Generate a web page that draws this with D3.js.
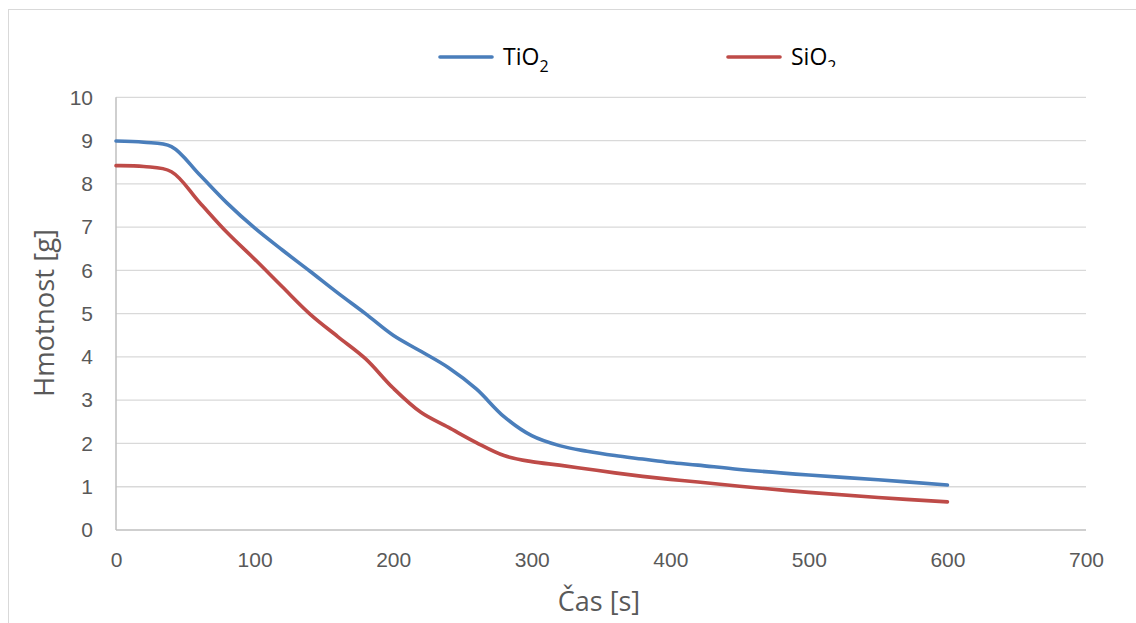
<!DOCTYPE html>
<html lang="cs">
<head>
<meta charset="UTF-8">
<script src="https://d3js.org/d3.v7.min.js"></script>
<style>
  html, body { margin: 0; padding: 0; background: #fff; overflow: hidden; }
  svg { display: block; font-family: "Open Sans", "Noto Sans", sans-serif; }
  .grid line { stroke: #d9d9d9; stroke-width: 1.3px; }
  .tick text { fill: #595959; font-size: 21px; }
  .title { fill: #595959; font-size: 27px; }
  .legend text { fill: #000; font-size: 23px; }
</style>
</head>
<body>
<svg id="chart" width="1136" height="623"></svg>
<script>
// cas [s]
const time = [0, 20, 40, 60, 80, 100, 120, 140, 160, 180, 200, 220, 240, 260, 280, 300,
              320, 340, 360, 380, 400, 420, 450, 500, 550, 600];
// hmotnost [g]
const tio2 = [8.99, 8.96, 8.86, 8.22, 7.56, 6.98, 6.47, 5.98, 5.48, 5.00, 4.50, 4.13, 3.75, 3.26, 2.62, 2.18,
              1.95, 1.82, 1.72, 1.64, 1.56, 1.50, 1.40, 1.27, 1.16, 1.04];
const sio2 = [8.42, 8.40, 8.28, 7.58, 6.88, 6.26, 5.62, 4.99, 4.47, 3.96, 3.28, 2.72, 2.37, 2.02, 1.72, 1.58,
              1.50, 1.41, 1.32, 1.24, 1.17, 1.11, 1.01, 0.87, 0.75, 0.65];
const xTicks = [0, 100, 200, 300, 400, 500, 600, 700];
const yTicks = [0, 1, 2, 3, 4, 5, 6, 7, 8, 9, 10];
const series = [
  { name: "TiO", sub: "2", values: tio2, color: "#4a7ebb" },
  { name: "SiO", sub: "2", values: sio2, color: "#be4b48" }
];

const svg = d3.select("#chart");
const m = { left: 116, right: 1086, top: 97.3, bottom: 530 };

// chart frame
svg.append("rect")
  .attr("x", 8.5).attr("y", 9.5).attr("width", 1140).attr("height", 630)
  .attr("fill", "none").attr("stroke", "#d9d9d9").attr("stroke-width", 1);

const x = d3.scaleLinear().domain([0, 700]).range([m.left, m.right]);
const y = d3.scaleLinear().domain([0, 10]).range([m.bottom, m.top]);

// horizontal gridlines
svg.append("g").attr("class", "grid")
  .selectAll("line").data(yTicks.filter(d => d > 0)).join("line")
  .attr("x1", m.left).attr("x2", m.right)
  .attr("y1", d => y(d)).attr("y2", d => y(d));

// axes lines
svg.append("line").attr("x1", m.left).attr("x2", m.right)
  .attr("y1", m.bottom).attr("y2", m.bottom)
  .attr("stroke", "#bfbfbf").attr("stroke-width", 1.5);
svg.append("line").attr("x1", m.left).attr("x2", m.left)
  .attr("y1", m.top).attr("y2", m.bottom)
  .attr("stroke", "#bfbfbf").attr("stroke-width", 1.5);

const xAxis = svg.append("g")
  .attr("transform", `translate(0,${m.bottom})`)
  .call(d3.axisBottom(x).tickValues(xTicks).tickSize(0).tickPadding(22));
xAxis.select(".domain").remove();

const yAxis = svg.append("g")
  .attr("transform", `translate(${m.left},0)`)
  .call(d3.axisLeft(y).tickValues(yTicks).tickSize(0).tickPadding(23));
yAxis.select(".domain").remove();

svg.selectAll(".tick text").attr("font-family", null).attr("font-size", null);

// axis titles
svg.append("text").attr("class", "title")
  .attr("x", 599).attr("y", 611).attr("text-anchor", "middle")
  .text("Čas [s]");
svg.append("text").attr("class", "title")
  .attr("transform", `translate(54,313) rotate(-90)`)
  .attr("text-anchor", "middle")
  .attr("textLength", 168).attr("lengthAdjust", "spacingAndGlyphs")
  .text("Hmotnost [g]");

// lines
const line = d3.line()
  .x((d, i) => x(time[i]))
  .y(d => y(d))
  .curve(d3.curveCatmullRom.alpha(0.5));

svg.append("g").selectAll("path").data(series).join("path")
  .attr("fill", "none")
  .attr("stroke", d => d.color)
  .attr("stroke-width", 3.6)
  .attr("stroke-linecap", "round")
  .attr("d", d => line(d.values));

// legend
const legendPos = [440, 728];
svg.append("clipPath").attr("id", "legclip")
  .append("rect").attr("x", 0).attr("y", -40).attr("width", 200).attr("height", 50);

const leg = svg.append("g").attr("class", "legend")
  .selectAll("g").data(series).join("g")
  .attr("transform", (d, i) => `translate(${legendPos[i]},57)`);
leg.append("line")
  .attr("x1", 0).attr("x2", 52).attr("y1", 0).attr("y2", 0)
  .attr("stroke", d => d.color).attr("stroke-width", 3.6)
  .attr("stroke-linecap", "round");
const lt = leg.append("text")
  .attr("x", 63).attr("y", 8)
  .attr("clip-path", (d, i) => i === 1 ? "url(#legclip)" : null);
lt.append("tspan").text(d => d.name);
lt.append("tspan").attr("dy", 7).attr("font-size", 16).text(d => d.sub);
</script>
</body>
</html>
